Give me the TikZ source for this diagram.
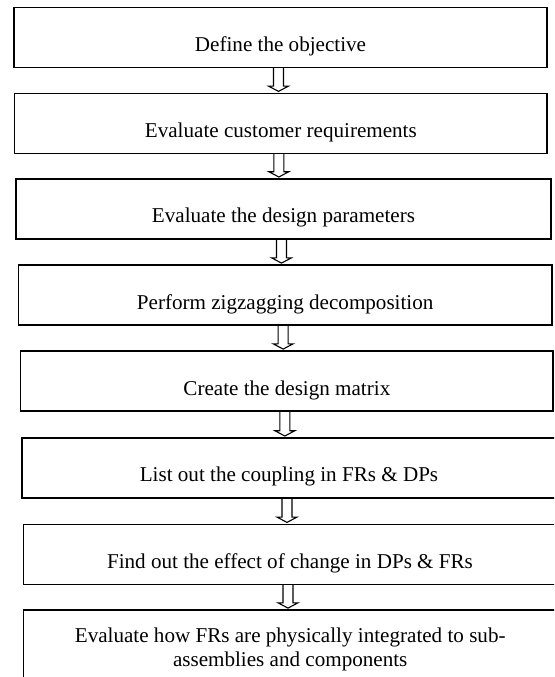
\documentclass[tikz,border=0pt]{standalone}
\usepackage{fontspec}
\setmainfont{Liberation Serif}
\usetikzlibrary{calc}
\tikzset{
  stepbox/.style={draw=black, line width=1.4pt, inner sep=0pt,
    text height=44pt, text depth=16pt, minimum height=60pt,
    font=\fontsize{21.1pt}{23.5pt}\selectfont},
  lastbox/.style={draw=black, line width=1.4pt, inner sep=0pt, align=center,
    font=\fontsize{21.1pt}{23.5pt}\selectfont},
  blockarrow/.style={draw=black, line width=1.1pt, line join=miter}
}
\begin{document}
\begin{tikzpicture}[x=1pt, y=-1pt]
\useasboundingbox (0,0) rectangle (554,677);
\clip (0,0) rectangle (554,677);
\fill[white] (0,0) rectangle (554,677);

\node[stepbox, minimum width=533pt]   (b1) at (280.5,37.3)  {Define the objective};
\node[stepbox, minimum width=532.3pt] (b2) at (280.85,123.3) {Evaluate customer requirements};
\node[stepbox, minimum width=535pt]   (b3) at (283.5,208.9) {Evaluate the design parameters};
\node[stepbox, minimum width=533.7pt] (b4) at (285.15,295)  {Perform zigzagging decomposition};
\node[stepbox, minimum width=532.3pt] (b5) at (286.85,381)  {Create the design matrix};
\node[stepbox, minimum width=534pt]   (b6) at (289,467.9)   {List out the coupling in FRs \& DPs};
\node[stepbox, minimum width=533.4pt] (b7) at (290,554.3)   {Find out the effect of change in DPs \& FRs};
\node[lastbox, minimum width=533.8pt, minimum height=79pt] (b8) at (290.2,649.5)
  {Evaluate how FRs are physically integrated to sub-\\assemblies and components};

\foreach \a/\b in {b1/b2,b2/b3,b3/b4,b4/b5,b5/b6,b6/b7,b7/b8}{
  \draw[blockarrow] let \p1=($(\a.south)+(-2pt,0pt)$), \p2=(\b.north) in
    (\x1-5pt,\y1) -- (\x1-5pt,\y2+6.5pt) -- (\x1-10pt,\y2+6.5pt) -- (\x1,\y2+1.2pt)
    -- (\x1+10pt,\y2+6.5pt) -- (\x1+5pt,\y2+6.5pt) -- (\x1+5pt,\y1);
}
\end{tikzpicture}
\end{document}
